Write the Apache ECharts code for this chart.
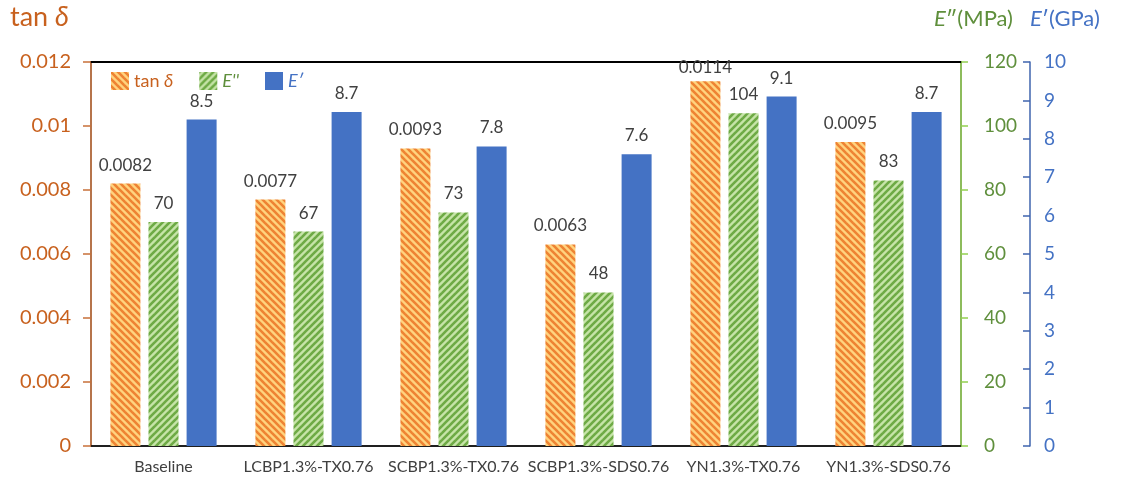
<!DOCTYPE html>
<html>
<head>
<meta charset="utf-8">
<script src="https://cdn.jsdelivr.net/npm/echarts@6/dist/echarts.min.js"></script>
<style>
  html, body { margin: 0; padding: 0; background: #fff; }
  #chart { width: 1124px; height: 478px; }
</style>
</head>
<body>
<div id="chart"></div>
<script>
// Samples on the category axis
const categories = ['Baseline', 'LCBP1.3%-TX0.76', 'SCBP1.3%-TX0.76', 'SCBP1.3%-SDS0.76', 'YN1.3%-TX0.76', 'YN1.3%-SDS0.76'];
// Loss factor tan δ (left axis)
const tanDelta = [0.0082, 0.0077, 0.0093, 0.0063, 0.0114, 0.0095];
// Loss modulus E'' in MPa (first right axis)
const lossModulus = [70, 67, 73, 48, 104, 83];
// Storage modulus E' in GPa (second right axis)
const storageModulus = [8.5, 8.7, 7.8, 7.6, 9.1, 8.7];

const FONT = 'Lato, "Open Sans", sans-serif';
const ORANGE_TXT = '#C8611E';
const GREEN_TXT = '#5F8F3C';
const BLUE_TXT = '#4472C4';
const TAN_MAX = 0.012;

// Diagonal stripe fill; dir = 1 draws "\" stripes, dir = -1 draws "/" stripes
function stripes(bg, fg, dir) {
  const P = 7;
  const c = document.createElement('canvas');
  c.width = P; c.height = P;
  const g = c.getContext('2d');
  g.fillStyle = bg;
  g.fillRect(0, 0, P, P);
  g.strokeStyle = fg;
  g.lineWidth = 2.6;
  for (let k = -1; k <= 1; k++) {
    g.beginPath();
    if (dir > 0) {
      g.moveTo(k * P - 1, -1);
      g.lineTo(k * P + P + 1, P + 1);
    } else {
      g.moveTo(k * P - 1, P + 1);
      g.lineTo(k * P + P + 1, -1);
    }
    g.stroke();
  }
  return { image: c, repeat: 'repeat' };
}

const orangeFill = stripes('#FFD37E', '#EE8333', 1);
const greenFill = stripes('#C6E4A8', '#6EAA45', -1);

const labelStyle = {
  show: true,
  position: 'top',
  distance: 10,
  color: '#404040',
  fontSize: 17,
  fontFamily: FONT
};

// Labels of bars close to the top of the plot are tucked in so they stay inside the frame
const tanItems = tanDelta.map(v => (v > TAN_MAX * 0.92 ? { value: v, label: { distance: 5 } } : v));

const chart = echarts.init(document.getElementById('chart'), null, { renderer: 'canvas' });

chart.setOption({
  animation: false,
  textStyle: { fontFamily: FONT },
  grid: {
    left: 91, right: 163, top: 62, bottom: 32,
    show: true, borderColor: '#000', borderWidth: 1, backgroundColor: 'rgba(0,0,0,0)'
  },
  legend: {
    left: 106,
    top: 67,
    itemWidth: 18,
    itemHeight: 18,
    itemGap: 26,
    icon: 'rect',
    formatter: name => {
      if (name === 'tan δ') return '{t|tan }{ti|δ}';
      if (name === "E''") return '{gi|E\'\'}';
      return '{bi|E′}';
    },
    textStyle: {
      fontSize: 18,
      fontFamily: FONT,
      rich: {
        t: { fontSize: 18, fontFamily: FONT, color: ORANGE_TXT },
        ti: { fontSize: 18, fontFamily: FONT, color: ORANGE_TXT, fontStyle: 'italic' },
        gi: { fontSize: 18, fontFamily: FONT, color: GREEN_TXT, fontStyle: 'italic' },
        bi: { fontSize: 18, fontFamily: FONT, color: BLUE_TXT, fontStyle: 'italic' }
      }
    },
    data: ['tan δ', "E''", 'E′']
  },
  xAxis: [
    {
      type: 'category',
      data: categories,
      axisLine: { onZero: false, lineStyle: { color: '#000', width: 1.5 } },
      axisTick: { show: false },
      axisLabel: { interval: 0, color: '#404040', fontSize: 16, margin: 13, fontFamily: FONT }
    },
    {
      // frame line along the top of the plot
      type: 'category',
      position: 'top',
      data: categories,
      axisLine: { show: true, onZero: false, lineStyle: { color: '#000', width: 2 } },
      axisTick: { show: false },
      axisLabel: { show: false }
    }
  ],
  yAxis: [
    {
      type: 'value',
      position: 'left',
      min: 0, max: TAN_MAX, interval: 0.002,
      splitLine: { show: false },
      axisLine: { show: true, lineStyle: { color: '#C8703A', width: 1.5 } },
      axisTick: { show: true, length: 8, lineStyle: { color: '#C8703A', width: 1.5 } },
      axisLabel: {
        color: ORANGE_TXT, fontSize: 20, margin: 20, fontFamily: FONT,
        formatter: v => (v === 0 ? '0' : String(+v.toFixed(3)))
      }
    },
    {
      type: 'value',
      position: 'right',
      min: 0, max: 120, interval: 20,
      splitLine: { show: false },
      axisLine: { show: true, lineStyle: { color: '#92D050', width: 1.5 } },
      axisTick: { show: true, length: 7, lineStyle: { color: '#92D050', width: 1.5 } },
      axisLabel: { color: GREEN_TXT, fontSize: 19, margin: 23, fontFamily: FONT }
    },
    {
      type: 'value',
      position: 'right',
      offset: 69,
      min: 0, max: 10, interval: 1,
      splitLine: { show: false },
      axisLine: { show: true, lineStyle: { color: '#3F64AE', width: 1.5 } },
      axisTick: { show: true, inside: true, length: 7, lineStyle: { color: '#3F64AE', width: 1.5 } },
      axisLabel: { color: BLUE_TXT, fontSize: 19, margin: 14, fontFamily: FONT }
    }
  ],
  series: [
    {
      name: 'tan δ',
      type: 'bar',
      yAxisIndex: 0,
      data: tanItems,
      barWidth: 30,
      barGap: '27%',
      itemStyle: { color: orangeFill },
      label: labelStyle
    },
    {
      name: "E''",
      type: 'bar',
      yAxisIndex: 1,
      data: lossModulus,
      barWidth: 30,
      barGap: '27%',
      itemStyle: { color: greenFill },
      label: labelStyle
    },
    {
      name: 'E′',
      type: 'bar',
      yAxisIndex: 2,
      data: storageModulus,
      barWidth: 30,
      barGap: '27%',
      itemStyle: { color: '#4472C4' },
      label: labelStyle
    }
  ],
  graphic: [
    {
      type: 'text',
      left: 10, top: 4,
      style: {
        text: '{a|tan }{b|δ}',
        rich: {
          a: { fontSize: 27, fontFamily: FONT, fill: ORANGE_TXT },
          b: { fontSize: 27, fontFamily: FONT, fill: ORANGE_TXT, fontStyle: 'italic' }
        }
      }
    },
    {
      type: 'text',
      left: 934, top: 8,
      style: {
        text: '{a|E}{b|″(MPa)}',
        rich: {
          a: { fontSize: 22, fontFamily: FONT, fill: GREEN_TXT, fontStyle: 'italic' },
          b: { fontSize: 22, fontFamily: FONT, fill: GREEN_TXT }
        }
      }
    },
    {
      type: 'text',
      left: 1030, top: 8,
      style: {
        text: '{a|E}{b|′(GPa)}',
        rich: {
          a: { fontSize: 22, fontFamily: FONT, fill: BLUE_TXT, fontStyle: 'italic' },
          b: { fontSize: 22, fontFamily: FONT, fill: BLUE_TXT }
        }
      }
    }
  ]
});
</script>
</body>
</html>
